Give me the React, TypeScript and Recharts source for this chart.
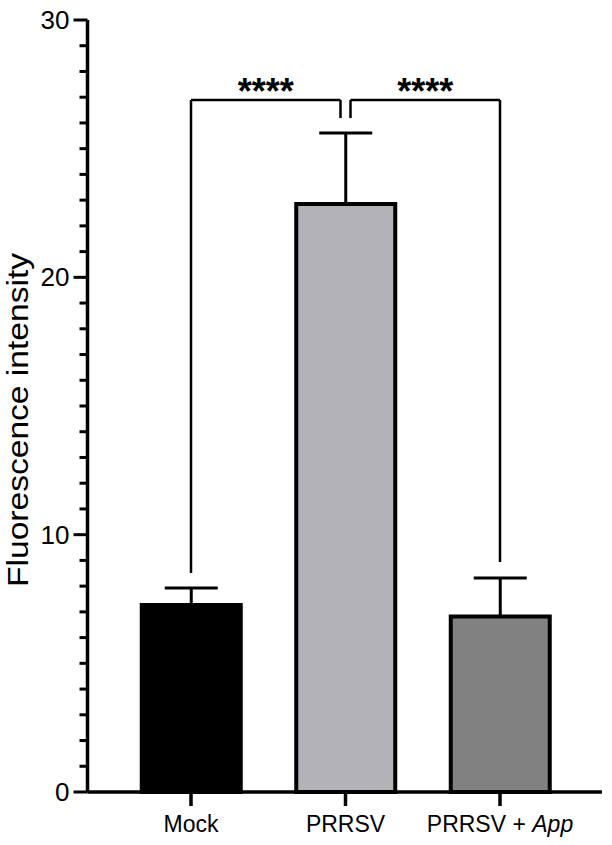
import { Bar, BarChart, Cell, ErrorBar, ReferenceLine, XAxis, YAxis } from "recharts";

const categories = ["Mock", "PRRSV", "PRRSV + App"];
const means = [7.27, 22.85, 6.82];
const sems = [0.66, 2.76, 1.5];
const fills = ["#000000", "#b3b3b7", "#818181"];
const yTicks = Array.from({ length: 31 }, (_, i) => i);

// significance brackets: [from, to, top, fromLegBottom, toLegBottom, label]
const brackets = [
  { from: "Mock", to: "PRRSV", top: 26.89, fromBottom: 8.51, toBottom: 26.19, label: "****" },
  { from: "PRRSV", to: "PRRSV + App", top: 26.89, fromBottom: 26.19, toBottom: 8.94, label: "****" },
];

const FONT = '"Liberation Sans", Arial, sans-serif';
const GAP = 5;

const data = categories.map((name, i) => ({ name, mean: means[i], err: [0, sems[i]] }));

function YTick({ x, y, payload }: any) {
  const v = payload.value;
  const major = v % 10 === 0;
  return (
    <g>
      <line x1={x - (major ? 14 : 8)} x2={x} y1={y} y2={y} stroke="#000" strokeWidth={3} />
      {major && (
        <text x={x - 18} y={y} dy={9} textAnchor="end" fontSize={26} fontFamily={FONT} fill="#000">
          {v}
        </text>
      )}
    </g>
  );
}

function XTick({ x, y, payload }: any) {
  const v: string = payload.value;
  const parts = v.split(" + ");
  return (
    <g>
      <line x1={x} x2={x} y1={y} y2={y + 14} stroke="#000" strokeWidth={3.5} />
      <text x={x} y={y + 40} textAnchor="middle" fontSize={23} fontFamily={FONT} fill="#000">
        {parts.length > 1 ? (
          <>
            <tspan>{parts[0]} + </tspan>
            <tspan fontStyle="italic">{parts[1]}</tspan>
          </>
        ) : (
          v
        )}
      </text>
    </g>
  );
}

function YLabel({ viewBox }: any) {
  const cx = 28;
  const cy = viewBox.y + viewBox.height / 2 + 14;
  return (
    <text
      x={cx}
      y={cy}
      transform={`rotate(-90, ${cx}, ${cy})`}
      textAnchor="middle"
      fontSize={30}
      fontFamily={FONT}
      fill="#000"
      textLength={334}
      lengthAdjust="spacingAndGlyphs"
    >
      Fluorescence intensity
    </text>
  );
}

const shifted = (dx1: number, dx2: number, label?: string) => (p: any) => (
  <g>
    <line x1={p.x1 + dx1} y1={p.y1} x2={p.x2 + dx2} y2={p.y2} stroke="#000" strokeWidth={2.5} />
    {label && (
      <text
        x={(p.x1 + dx1 + p.x2 + dx2) / 2}
        y={p.y1 + 4}
        textAnchor="middle"
        fontSize={36}
        fontWeight="bold"
        fontFamily={FONT}
        fill="#000"
      >
        {label}
      </text>
    )}
  </g>
);

export default function App() {
  return (
    <div style={{ position: "absolute", left: 0, top: 0, background: "#fff" }}>
      <BarChart width={612} height={845} data={data} margin={{ top: 20, right: 10, bottom: 0, left: 0 }}>
        <XAxis
          dataKey="name"
          height={53}
          padding={{ left: 26.25, right: 24.75 }}
          axisLine={{ stroke: "#000", strokeWidth: 3.5 }}
          tickLine={false}
          tickSize={0}
          tickMargin={0}
          tick={<XTick />}
          interval={0}
        />
        <YAxis
          width={87.5}
          domain={[0, 30]}
          ticks={yTicks}
          interval={0}
          axisLine={{ stroke: "#000", strokeWidth: 3.5 }}
          tickLine={false}
          tickSize={0}
          tickMargin={0}
          tick={<YTick />}
          label={<YLabel />}
        />
        <Bar dataKey="mean" barSize={99} stroke="#000" strokeWidth={4} isAnimationActive={false}>
          {data.map((d, i) => (
            <Cell key={d.name} fill={fills[i]} />
          ))}
          <ErrorBar dataKey="err" direction="y" width={26.5} stroke="#000" strokeWidth={3} isAnimationActive={false} />
        </Bar>
        {brackets.map((b, i) => {
          const dxFrom = i === 1 ? GAP : 0;
          const dxTo = i === 0 ? -GAP : 0;
          return [
            <ReferenceLine
              key={`h${i}`}
              segment={[{ x: b.from, y: b.top }, { x: b.to, y: b.top }]}
              shape={shifted(dxFrom, dxTo, b.label)}
            />,
            <ReferenceLine
              key={`l${i}`}
              segment={[{ x: b.from, y: b.top }, { x: b.from, y: b.fromBottom }]}
              shape={shifted(dxFrom, dxFrom)}
            />,
            <ReferenceLine
              key={`r${i}`}
              segment={[{ x: b.to, y: b.top }, { x: b.to, y: b.toBottom }]}
              shape={shifted(dxTo, dxTo)}
            />,
          ];
        })}
      </BarChart>
    </div>
  );
}
